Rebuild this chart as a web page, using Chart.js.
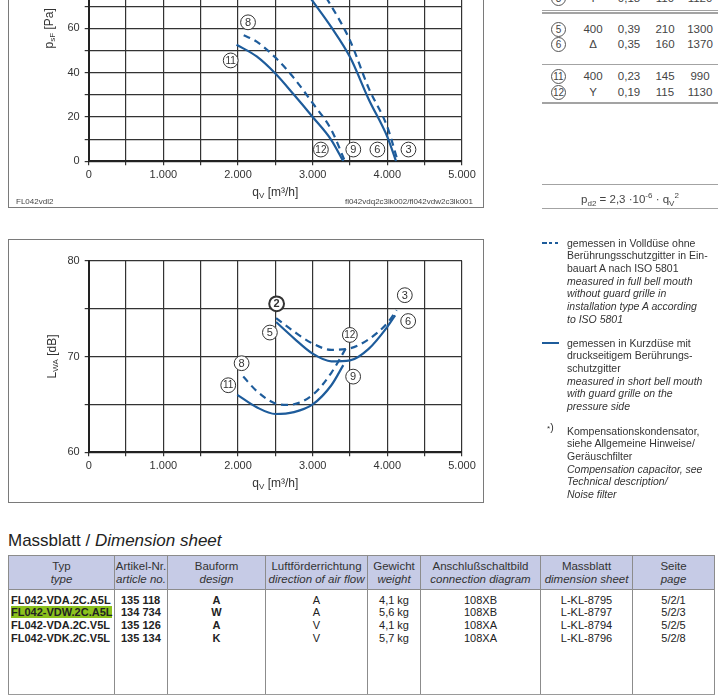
<!DOCTYPE html>
<html lang="de">
<head>
<meta charset="utf-8">
<title>FL042 Kennlinien</title>
<script src="https://cdn.jsdelivr.net/npm/chart.js@4.4.1/dist/chart.umd.min.js"></script>
<style>
  html, body { margin: 0; padding: 0; }
  body { width: 721px; height: 700px; overflow: hidden; position: relative; background: #fff;
         font-family: "Liberation Sans", Arial, sans-serif; color: #333; }
  .frame { position: absolute; border: 1px solid #7a7a7a; box-sizing: border-box; }
  .plot { position: absolute; }
  .tag { position: absolute; font-size: 8px; line-height: 10px; color: #444; white-space: nowrap; }
  .rule { position: absolute; left: 542px; width: 176px; height: 1.5px; background: #a3a3a3; }
  .trow { position: absolute; left: 0; height: 14px; line-height: 14px; font-size: 11.5px; color: #444; }
  .trow span { position: absolute; top: 0; text-align: center; }
  .circ { display: inline-block; width: 13px; height: 13px; line-height: 13px; border: 1px solid #555;
          border-radius: 50%; font-size: 10px; text-align: center; font-style: normal; }
  .formula { position: absolute; left: 542px; width: 176px; top: 192px; text-align: center;
             font-size: 11.5px; line-height: 14px; color: #444; }
  .formula sub, .formula sup { font-size: 8px; line-height: 0; position: relative; vertical-align: baseline; }
  .formula sub { top: 3px; }
  .formula sup { top: -5px; }
  .legend { position: absolute; left: 567px; font-size: 10.5px; line-height: 12.7px; color: #333; white-space: nowrap; }
  .title { position: absolute; left: 8px; top: 530px; font-size: 17px; line-height: 22px; color: #222; white-space: nowrap; }
  table.dims { position: absolute; left: 8px; top: 555px; width: 706px; border-collapse: collapse; table-layout: fixed; }
  table.dims th { background: #c6cbe6; border: 1px solid #8c8c8c; font-weight: normal; font-size: 11.5px;
                  line-height: 13.3px; padding: 4px 0 2px 0; color: #333; white-space: nowrap; overflow: hidden; }
  table.dims td { border-left: 1px solid #8c8c8c; border-right: 1px solid #8c8c8c; border-bottom: 1px solid #9a9a9a;
                  vertical-align: top; font-size: 11px; line-height: 12.7px; padding: 4px 0 0 0; height: 100px;
                  text-align: center; color: #222; white-space: nowrap; }
  table.dims td.l { text-align: left; padding-left: 2px; }
  table.dims td.a { text-align: left; padding-left: 6px; }
  table.dims td.b { font-weight: bold; }
  .hl { background: #8cc21e; }
</style>
</head>
<body>

<!-- static pressure chart (top cut off like the sheet) -->
<div class="frame" style="left:8px; top:-140px; width:476px; height:348px;"></div>
<div class="plot" style="left:8px; top:-120px; width:475px; height:327px;"><canvas id="pressure"></canvas></div>
<div class="tag" style="left:16px; top:197px;">FL042vdl2</div>
<div class="tag" style="left:300px; top:197px; width:173px; text-align:right;">fl042vdq2c3lk002/fl042vdw2c3lk001</div>

<!-- sound power chart -->
<div class="frame" style="left:8px; top:239px; width:476px; height:264px;"></div>
<div class="plot" style="left:8px; top:239px; width:475px; height:263px;"><canvas id="noise"></canvas></div>

<!-- operating data table, right -->
<div class="trow" style="top:-9px;"><span style="left:549px;width:19px"><i class="circ">3</i></span><span style="left:578px;width:30px">Y</span><span style="left:612px;width:34px">0,18</span><span style="left:650px;width:30px">110</span><span style="left:683px;width:34px">1120</span></div>
<div class="rule" style="top:9.5px;"></div>
<div class="rule" style="top:12px;"></div>
<div class="trow" style="top:22px;"><span style="left:549px;width:19px"><i class="circ">5</i></span><span style="left:578px;width:30px">400</span><span style="left:612px;width:34px">0,39</span><span style="left:650px;width:30px">210</span><span style="left:683px;width:34px">1300</span></div>
<div class="trow" style="top:37.3px;"><span style="left:549px;width:19px"><i class="circ">6</i></span><span style="left:578px;width:30px">Δ</span><span style="left:612px;width:34px">0,35</span><span style="left:650px;width:30px">160</span><span style="left:683px;width:34px">1370</span></div>
<div class="rule" style="top:63.5px;"></div>
<div class="trow" style="top:69px;"><span style="left:549px;width:19px"><i class="circ">11</i></span><span style="left:578px;width:30px">400</span><span style="left:612px;width:34px">0,23</span><span style="left:650px;width:30px">145</span><span style="left:683px;width:34px">990</span></div>
<div class="trow" style="top:84.7px;"><span style="left:549px;width:19px"><i class="circ">12</i></span><span style="left:578px;width:30px">Y</span><span style="left:612px;width:34px">0,19</span><span style="left:650px;width:30px">115</span><span style="left:683px;width:34px">1130</span></div>
<div class="rule" style="top:102px;"></div>
<div class="rule" style="top:183.5px;"></div>
<div class="formula">p<sub>d2</sub> = 2,3 ·10<sup>-6</sup> · q<sub>V</sub><sup>2</sup></div>
<div class="rule" style="top:207.5px;"></div>

<!-- legend, right -->
<div style="position:absolute; left:542px; top:242px; width:5px; height:2px; background:#1e5c9b;"></div>
<div style="position:absolute; left:549px; top:242px; width:3px; height:2px; background:#1e5c9b;"></div>
<div style="position:absolute; left:555px; top:242px; width:3px; height:2px; background:#1e5c9b;"></div>
<div class="legend" style="top:236.6px;">gemessen in Volldüse ohne<br>Berührungsschutzgitter in Ein-<br>bauart A nach ISO 5801<br><i>measured in full bell mouth<br>without guard grille in<br>installation type A according<br>to ISO 5801</i></div>
<div style="position:absolute; left:542px; top:342px; width:17px; height:2px; background:#1e5c9b;"></div>
<div class="legend" style="top:336.6px;">gemessen in Kurzdüse mit<br>druckseitigem Berührungs-<br>schutzgitter<br><i>measured in short bell mouth<br>with guard grille on the<br>pressure side</i></div>
<div class="legend" style="left:547px; top:421px;"><span style="font-size:8px;">*</span>)</div>
<div class="legend" style="top:424.6px;">Kompensationskondensator,<br>siehe Allgemeine Hinweise/<br>Geräuschfilter<br><i>Compensation capacitor, see<br>Technical description/<br>Noise filter</i></div>

<!-- dimension sheet table -->
<div class="title">Massblatt / <i>Dimension sheet</i></div>
<table class="dims">
  <colgroup>
    <col style="width:106px"><col style="width:53px"><col style="width:98px"><col style="width:102px">
    <col style="width:53px"><col style="width:120px"><col style="width:92px"><col style="width:82px">
  </colgroup>
  <thead>
    <tr>
      <th>Typ<br><i>type</i></th>
      <th>Artikel-Nr.<br><i>article no.</i></th>
      <th>Bauform<br><i>design</i></th>
      <th>Luftförderrichtung<br><i>direction of air flow</i></th>
      <th>Gewicht<br><i>weight</i></th>
      <th>Anschlußschaltbild<br><i>connection diagram</i></th>
      <th>Massblatt<br><i>dimension sheet</i></th>
      <th>Seite<br><i>page</i></th>
    </tr>
  </thead>
  <tbody>
    <tr>
      <td class="l b">FL042-VDA.2C.A5L<br><span class="hl">FL042-VDW.2C.A5L</span><br>FL042-VDA.2C.V5L<br>FL042-VDK.2C.V5L</td>
      <td class="a b">135 118<br>134 734<br>135 126<br>135 134</td>
      <td class="b">A<br>W<br>A<br>K</td>
      <td>A<br>A<br>V<br>V</td>
      <td>4,1 kg<br>5,6 kg<br>4,1 kg<br>5,7 kg</td>
      <td>108XB<br>108XB<br>108XA<br>108XA</td>
      <td>L-KL-8795<br>L-KL-8797<br>L-KL-8794<br>L-KL-8796</td>
      <td>5/2/1<br>5/2/3<br>5/2/5<br>5/2/8</td>
    </tr>
  </tbody>
</table>

<script>
// static pressure psF [Pa] over air flow qV [m³/h]
const psfFullQ   = [2500, 2750, 3000, 3250, 3500, 3750, 4000, 4140];   // 2 -> 3, full bell mouth
const psfFullP   = [104, 94, 83, 70, 54.5, 33, 15.5, 0];
const psfShortQ  = [2500, 2750, 3000, 3250, 3500, 3750, 4000, 4117];   // 5 -> 6, short bell mouth
const psfShortP  = [94, 84, 72.3, 60.5, 47, 28, 11, 0];
const psfFullYQ  = [2076, 2250, 2500, 2750, 3000, 3250, 3432];         // 8 -> 9
const psfFullYP  = [56.9, 54.0, 46.8, 37.5, 26.2, 14.2, 0];
const psfShortYQ = [1980, 2250, 2500, 2750, 3000, 3250, 3410];         // 11 -> 12
const psfShortYP = [52.6, 47.3, 39.6, 30.0, 20.0, 9.6, 0];

// sound power LWA [dB] over air flow qV [m³/h]
const lwaFullQ   = [2510, 2750, 3000, 3250, 3500, 3750, 4000, 4125];
const lwaFullL   = [74.0, 72.6, 71.35, 70.7, 70.85, 71.8, 73.5, 74.85];
const lwaShortQ  = [2510, 2750, 3000, 3250, 3500, 3750, 4000, 4105];
const lwaShortL  = [73.6, 71.9, 70.3, 69.5, 69.6, 70.8, 73.1, 74.3];
const lwaFullYQ  = [2070, 2250, 2500, 2670, 3000, 3250, 3455];
const lwaFullYL  = [67.9, 66.4, 65.1, 64.95, 66.0, 68.3, 71.0];
const lwaShortYQ = [1990, 2250, 2500, 2750, 3000, 3250, 3410];
const lwaShortYL = [66.0, 64.7, 64.0, 64.2, 65.0, 67.0, 69.1];

// circled operating point numbers: [text, qV, value, bold]
const psfMarks = [['8', 2134, 62.7], ['11', 1902, 45.5], ['12', 3110, 5.3], ['9', 3544, 5.3], ['6', 3867, 5.3], ['3', 4283, 5.3]];
const lwaMarks = [['2', 2517, 75.5, true], ['5', 2427, 72.5], ['8', 2048, 69.3], ['11', 1869, 67.0],
                  ['12', 3498, 72.25], ['9', 3542, 67.9], ['3', 4234, 76.4], ['6', 4279, 73.7]];

const FONT = '"Liberation Sans", Arial, sans-serif';
const BLUE = '#1e5c9b';
const GRID = '#333';

function fmtFlow(v) {
  return v === 0 ? '0' : (v / 1000) + '.000';
}

function curve(qs, vs, dashed) {
  return {
    data: qs.map((q, i) => ({ x: q, y: vs[i] })),
    borderColor: BLUE, borderWidth: 2.2, borderDash: dashed ? [7, 5] : [],
    pointRadius: 0, cubicInterpolationMode: 'monotone', fill: false
  };
}

// text with subscripts, centered on (cx, cy)
function drawParts(ctx, parts, cx, cy) {
  let total = 0;
  parts.forEach(p => { ctx.font = p[1] + 'px ' + FONT; total += ctx.measureText(p[0]).width; });
  let x = cx - total / 2;
  ctx.textAlign = 'left';
  ctx.textBaseline = 'middle';
  parts.forEach(p => {
    ctx.font = p[1] + 'px ' + FONT;
    ctx.fillText(p[0], x, cy + p[2]);
    x += ctx.measureText(p[0]).width;
  });
}

const sheetDecor = {
  id: 'sheetDecor',
  afterDatasetsDraw(chart, args, o) {
    const { ctx, chartArea: a, scales: { x, y } } = chart;
    ctx.save();
    ctx.fillStyle = '#333';
    drawParts(ctx, o.xTitle, (a.left + a.right) / 2, a.bottom + o.xGap);
    ctx.translate(a.left - o.yGap, (a.top + a.bottom) / 2);
    ctx.rotate(-Math.PI / 2);
    drawParts(ctx, o.yTitle, 0, 0);
    ctx.restore();

    o.marks.forEach(([t, q, v, bold]) => {
      const px = x.getPixelForValue(q), py = y.getPixelForValue(v);
      ctx.save();
      ctx.beginPath();
      ctx.arc(px, py, 7.4, 0, Math.PI * 2);
      ctx.fillStyle = '#fff';
      ctx.fill();
      ctx.lineWidth = bold ? 2 : 1;
      ctx.strokeStyle = '#333';
      ctx.stroke();
      ctx.fillStyle = '#333';
      ctx.font = (bold ? 'bold ' : '') + (t.length > 1 ? '10px ' : '11px ') + FONT;
      ctx.textAlign = 'center';
      ctx.textBaseline = 'middle';
      ctx.fillText(t, px, py + 0.5);
      ctx.restore();
    });
  }
};

function flowAxis(h) {
  return {
    type: 'linear', min: 0, max: 5000,
    grid: { color: GRID, lineWidth: 1.2, tickLength: 4, tickColor: GRID },
    border: { color: '#222', width: 2 },
    ticks: { stepSize: 500, autoSkip: false, maxRotation: 0, padding: 3, color: '#333',
             font: { family: FONT, size: 11 }, callback: v => (v % 1000 === 0 ? fmtFlow(v) : '') },
    afterFit: s => { s.height = h; }
  };
}

function valueAxis(min, max, step, every, w) {
  return {
    type: 'linear', min: min, max: max,
    grid: { color: GRID, lineWidth: 1.2, tickLength: 4, tickColor: GRID },
    border: { color: '#222', width: 2 },
    ticks: { stepSize: step, autoSkip: false, padding: 5, color: '#333',
             font: { family: FONT, size: 11 }, callback: v => (v % every === 0 ? String(v) : '') },
    afterFit: s => { s.width = w; }
  };
}

function makeChart(id, datasets, yAxis, xHeight, padTop, decor) {
  return new Chart(document.getElementById(id), {
    type: 'line',
    data: { datasets: datasets },
    options: {
      responsive: true, maintainAspectRatio: false, animation: false, events: [],
      layout: { padding: { left: 0, right: 21, top: padTop, bottom: 0 } },
      scales: { x: flowAxis(xHeight), y: yAxis },
      plugins: { legend: { display: false }, tooltip: { enabled: false }, sheetDecor: decor }
    },
    plugins: [sheetDecor]
  });
}

makeChart('pressure', [
  curve(psfFullQ, psfFullP, true),
  curve(psfShortQ, psfShortP, false),
  curve(psfFullYQ, psfFullYP, true),
  curve(psfShortYQ, psfShortYP, false)
], valueAxis(0, 120, 10, 20, 80.7), 45.7, 15.3, {
  xTitle: [['q', 12, 0], ['V', 8, 3], [' [m³/h]', 12, 0]],
  yTitle: [['p', 12, 0], ['sF', 8, 3], [' [Pa]', 12, 0]],
  xGap: 31.4, yGap: 39, marks: psfMarks
});

makeChart('noise', [
  curve(lwaFullQ, lwaFullL, true),
  curve(lwaShortQ, lwaShortL, false),
  curve(lwaFullYQ, lwaFullYL, true),
  curve(lwaShortYQ, lwaShortYL, false)
], valueAxis(60, 80, 5, 10, 80.7), 49.7, 21.7, {
  xTitle: [['q', 12, 0], ['V', 8, 3], [' [m³/h]', 12, 0]],
  yTitle: [['L', 12, 0], ['WA', 8, 3], [' [dB]', 12, 0]],
  xGap: 31, yGap: 36, marks: lwaMarks
});
</script>
</body>
</html>
